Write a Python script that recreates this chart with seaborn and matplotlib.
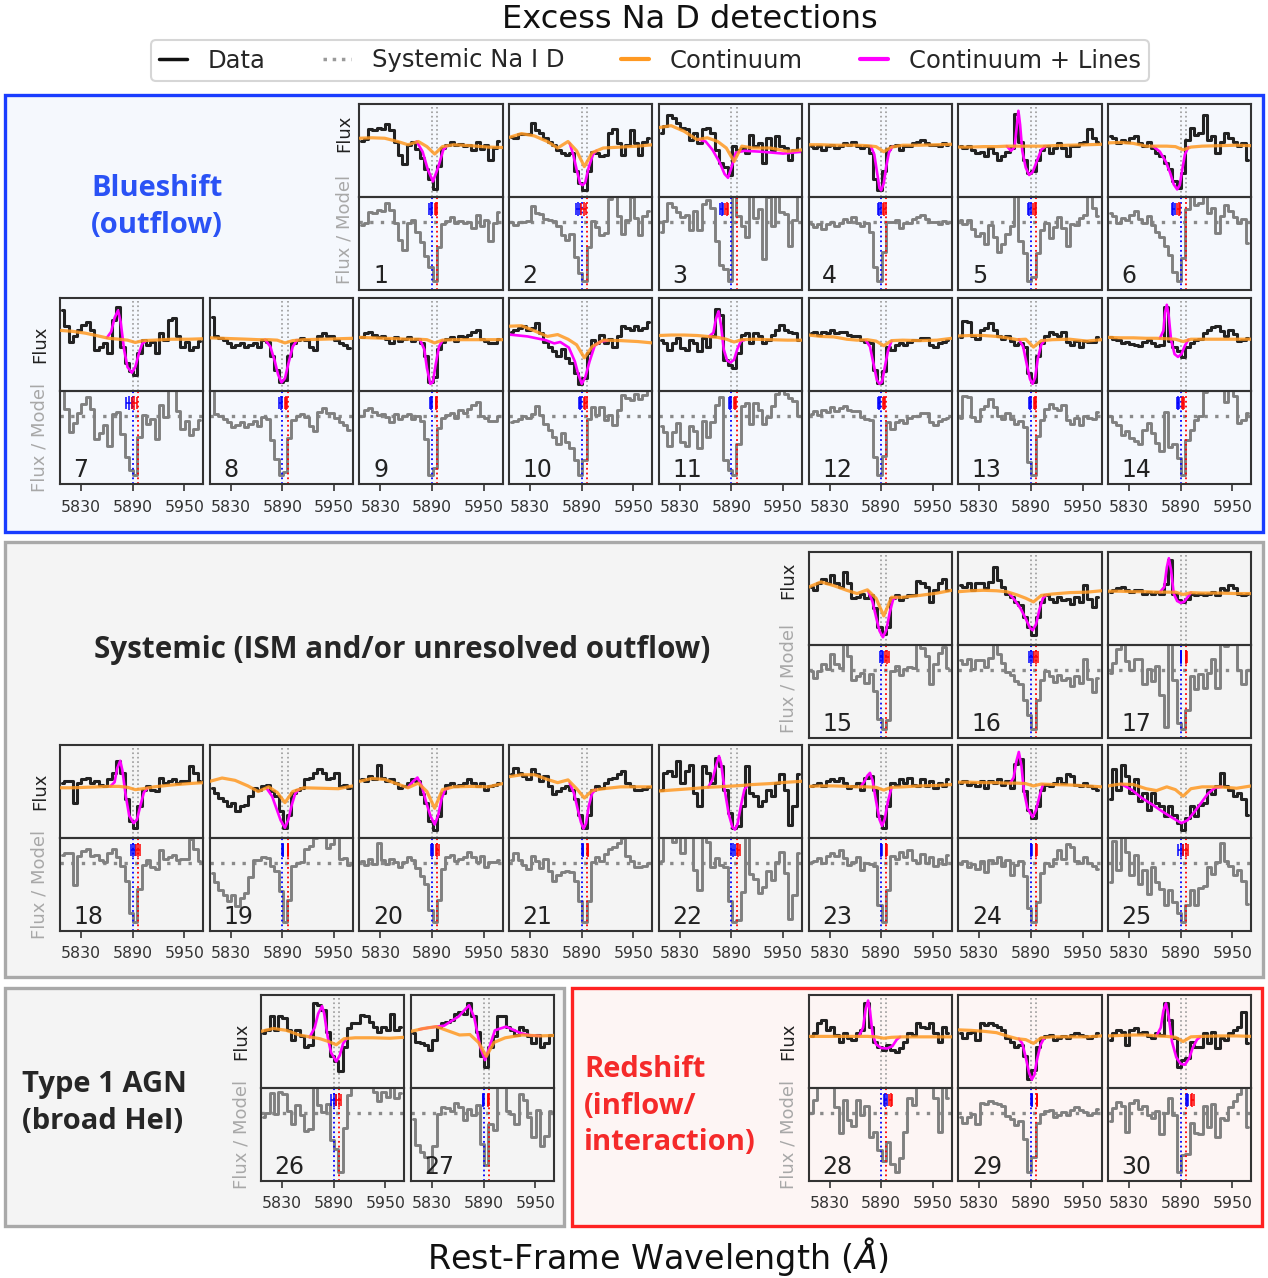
import numpy as np
import matplotlib
matplotlib.use("Agg")
import matplotlib.pyplot as plt
from matplotlib.patches import Rectangle
from matplotlib.lines import Line2D
import seaborn as sns

W, H = 1268, 1278

# wavelength grids (Angstrom)
WAVE_LIM = (5805.6, 5972.0)
FLUX_WAVE = np.arange(5808, 5969, 5)
CONT_WAVE = [5806, 5820, 5835, 5850, 5862, 5874, 5884, 5893, 5902, 5915, 5935, 5955, 5972]
NAD = [5890, 5896]
TICKS = [5830, 5890, 5950]

# ---- spectra (flux in panel units, 0 = bottom, 10 = top) ----
FLUX_01 = [6.1, 6.3, 7.3, 7.2, 7.4, 7.3, 7.9, 7.2, 6.0, 4.5, 3.6, 5.6, 6.0, 5.2, 4.2, 3.0, 2.0, 0.9, 3.4, 5.3, 5.6, 6.0, 5.6, 5.7, 5.5, 5.6, 5.1, 6.0, 5.2, 5.6, 4.0, 5.3, 6.1]
CONT_01 = [6.35, 6.4, 6.35, 6.0, 5.65, 6.0, 5.45, 4.65, 5.45, 5.65, 5.55, 5.4, 5.35]
LINE_01 = [(5872, 6.0), (5879, 4.9), (5885, 3.0), (5891, 1.7), (5897, 3.2), (5903, 5.1), (5907, 5.5)]

FLUX_02 = [6.5, 6.4, 6.8, 6.8, 6.8, 8.0, 7.25, 6.9, 6.35, 6.0, 5.65, 5.1, 4.75, 4.6, 4.75, 2.8, 1.5, 0.8, 2.8, 4.9, 4.75, 4.4, 4.6, 6.9, 7.3, 5.8, 4.6, 5.6, 7.2, 5.8, 4.6, 6.0, 6.4]
CONT_02 = [6.45, 6.85, 6.6, 6.0, 5.3, 6.0, 5.0, 3.3, 4.8, 5.3, 5.4, 5.5, 5.65]
LINE_02 = [(5876, 5.8), (5880, 4.6), (5884, 3.0), (5888, 1.5), (5891, 1.3), (5894, 1.6), (5898, 3.2), (5903, 4.6), (5907, 5.0)]

FLUX_03 = [6.9, 7.65, 8.9, 8.55, 8.0, 7.5, 7.3, 6.2, 6.9, 5.85, 7.3, 7.5, 6.9, 5.1, 3.7, 3.3, 2.4, 5.5, 5.1, 5.3, 4.75, 6.75, 5.5, 5.85, 3.7, 6.4, 5.1, 6.6, 5.5, 5.3, 4.0, 5.1, 6.4]
CONT_03 = [7.5, 7.7, 7.1, 6.2, 6.4, 6.0, 5.3, 3.85, 5.5, 5.3, 5.3, 4.95, 5.1]
LINE_03 = [(5852, 6.2), (5860, 6.0), (5868, 5.1), (5876, 3.8), (5882, 2.5), (5886, 2.1), (5890, 3.2), (5895, 4.8), (5905, 5.0), (5925, 4.9), (5950, 4.7), (5972, 4.9)]

FLUX_04 = [5.5, 5.3, 5.5, 5.1, 5.5, 5.65, 5.3, 5.5, 5.85, 5.65, 6.0, 5.5, 5.3, 5.5, 4.75, 2.0, 0.8, 2.8, 5.2, 5.5, 5.65, 5.1, 5.5, 5.5, 5.85, 6.0, 6.2, 5.85, 5.65, 5.65, 5.5, 5.8, 5.6]
CONT_04 = [5.65, 5.65, 5.6, 5.6, 5.6, 5.55, 5.45, 4.9, 5.4, 5.6, 5.6, 5.65, 5.7]
LINE_04 = [(5878, 5.5), (5882, 4.6), (5885, 2.8), (5888, 1.0), (5890, 0.75), (5893, 1.5), (5896, 3.4), (5899, 4.8), (5903, 5.45)]

FLUX_05 = [5.5, 5.3, 5.5, 5.1, 4.75, 4.9, 4.4, 5.3, 4.75, 4.0, 4.4, 4.9, 5.3, 9.0, 6.0, 4.0, 2.6, 2.8, 4.0, 5.1, 5.5, 4.75, 5.3, 5.85, 5.3, 4.4, 5.5, 5.5, 5.85, 6.0, 7.3, 6.4, 6.0]
CONT_05 = [5.4, 5.4, 5.45, 5.45, 5.5, 5.5, 5.5, 5.5, 5.5, 5.55, 5.6, 5.65, 5.7]
LINE_05 = [(5862, 5.5), (5867, 5.0), (5871, 5.4), (5873.5, 7.5), (5875.5, 9.3), (5877.5, 7.8), (5880, 5.0), (5884, 3.2), (5888, 2.4), (5892, 2.7), (5897, 3.9), (5902, 5.1), (5907, 5.5)]

FLUX_06 = [6.6, 6.4, 5.85, 6.2, 6.0, 6.4, 6.6, 5.85, 5.5, 6.0, 5.3, 4.75, 4.4, 3.7, 3.0, 1.7, 1.0, 2.6, 6.2, 7.5, 6.75, 6.9, 8.9, 6.2, 6.6, 4.75, 6.0, 6.9, 6.4, 6.0, 5.5, 5.85, 4.0]
CONT_06 = [5.85, 5.9, 5.8, 5.5, 5.5, 5.5, 5.45, 5.1, 5.4, 5.5, 5.55, 5.6, 5.55]
LINE_06 = [(5858, 5.5), (5866, 4.9), (5873, 3.8), (5878, 2.6), (5882, 1.4), (5886, 0.85), (5889, 1.3), (5892, 3.0), (5895, 4.6), (5899, 5.4)]

FLUX_07 = [8.75, 7.0, 5.35, 5.9, 6.6, 7.15, 7.5, 6.6, 4.45, 4.8, 5.2, 4.1, 7.7, 9.1, 4.8, 3.0, 2.15, 1.8, 4.1, 5.5, 5.0, 5.3, 4.1, 6.25, 5.5, 7.7, 7.85, 5.9, 4.8, 5.3, 4.45, 4.8, 5.4]
CONT_07 = [6.55, 6.45, 6.25, 5.95, 5.7, 5.6, 5.5, 5.25, 5.45, 5.5, 5.6, 5.6, 5.65]
LINE_07 = [(5860, 5.75), (5865, 6.4), (5869, 7.9), (5873, 8.7), (5876, 7.5), (5880, 4.5), (5884, 2.6), (5889, 2.0), (5893, 2.6), (5897, 4.0), (5901, 5.1), (5905, 5.4)]

FLUX_08 = [8.0, 5.9, 5.7, 5.5, 5.2, 4.8, 5.0, 5.2, 4.8, 5.0, 5.2, 4.8, 5.5, 5.35, 3.75, 2.3, 1.05, 1.25, 3.75, 5.2, 5.5, 5.7, 5.5, 4.8, 4.45, 5.9, 6.25, 5.9, 5.9, 5.5, 5.2, 5.0, 4.65]
CONT_08 = [5.75, 5.7, 5.65, 5.6, 5.55, 5.55, 5.5, 5.2, 5.45, 5.55, 5.6, 5.65, 5.7]
LINE_08 = [(5870, 5.55), (5876, 4.8), (5881, 3.3), (5885, 1.8), (5889, 0.95), (5893, 1.4), (5897, 3.0), (5902, 4.8), (5907, 5.5)]

FLUX_09 = [5.8, 6.3, 6.4, 6.1, 5.8, 5.9, 5.6, 5.2, 5.8, 5.4, 5.6, 5.8, 5.4, 5.6, 5.2, 3.8, 1.0, 1.5, 4.5, 5.35, 5.6, 5.8, 5.4, 6.0, 5.8, 6.1, 6.4, 6.6, 5.6, 5.4, 5.2, 5.2, 5.6]
CONT_09 = [5.8, 5.75, 5.7, 5.65, 5.6, 5.6, 5.55, 5.2, 5.5, 5.55, 5.55, 5.55, 5.55]
LINE_09 = [(5876, 5.55), (5881, 4.5), (5884, 2.5), (5888, 0.8), (5891, 1.0), (5894, 2.8), (5898, 4.8), (5902, 5.45)]

FLUX_10 = [6.4, 6.6, 6.8, 7.0, 6.6, 6.8, 7.3, 6.25, 5.35, 4.8, 4.3, 3.75, 4.5, 3.6, 3.0, 2.0, 0.8, 1.4, 4.1, 5.5, 5.2, 6.1, 5.2, 5.6, 4.8, 5.9, 7.0, 6.8, 6.6, 7.0, 6.6, 6.8, 7.5]
CONT_10 = [7.0, 7.05, 6.5, 5.9, 6.1, 5.6, 5.0, 3.6, 4.8, 5.5, 5.45, 5.35, 5.2]
LINE_10 = [(5806, 6.1), (5827, 5.9), (5848, 5.5), (5858, 5.15), (5865, 5.3), (5875, 4.7), (5882, 3.2), (5886, 1.8), (5890, 0.8), (5894, 1.5), (5899, 3.2), (5905, 4.9), (5912, 5.35), (5920, 5.45)]

FLUX_11 = [5.5, 5.2, 4.45, 5.2, 5.7, 4.65, 4.45, 5.5, 5.2, 4.3, 5.7, 4.8, 5.9, 8.9, 8.2, 3.4, 2.85, 2.5, 4.1, 6.05, 6.25, 5.2, 6.25, 5.9, 5.2, 5.5, 6.05, 6.6, 7.15, 6.6, 6.4, 6.25, 5.5]
CONT_11 = [6.0, 6.05, 6.05, 6.0, 5.9, 5.8, 5.6, 5.3, 5.55, 5.6, 5.55, 5.5, 5.5]
LINE_11 = [(5864, 5.9), (5869, 6.3), (5872, 7.8), (5875, 8.6), (5878, 7.0), (5881, 4.5), (5885, 3.3), (5889, 3.1), (5893, 3.4), (5897, 4.6), (5901, 5.4), (5905, 5.5)]

FLUX_12 = [6.25, 6.4, 6.05, 6.4, 6.25, 6.6, 6.25, 6.4, 6.4, 6.05, 5.9, 5.9, 5.5, 5.35, 5.2, 2.3, 0.9, 2.15, 4.8, 4.45, 5.0, 5.2, 5.0, 5.35, 5.5, 5.5, 5.7, 5.7, 5.0, 4.8, 5.2, 5.35, 5.5]
CONT_12 = [6.05, 5.9, 5.85, 5.6, 5.5, 5.55, 5.4, 4.9, 5.45, 5.5, 5.45, 5.5, 5.7]
LINE_12 = [(5872, 5.5), (5877, 4.8), (5881, 3.0), (5885, 1.2), (5888, 0.8), (5891, 1.0), (5894, 2.5), (5898, 4.4), (5902, 5.4)]

FLUX_13 = [5.8, 7.6, 7.5, 5.9, 5.6, 6.6, 6.8, 7.3, 6.6, 5.9, 5.6, 6.0, 5.4, 5.0, 5.2, 4.8, 2.0, 1.0, 3.8, 5.2, 6.0, 6.4, 6.2, 6.0, 6.4, 5.3, 5.0, 5.4, 4.8, 5.4, 5.3, 5.3, 5.8]
CONT_13 = [5.95, 6.0, 6.0, 5.9, 5.75, 5.55, 5.6, 4.75, 5.45, 5.55, 5.6, 5.4, 5.55]
LINE_13 = [(5876, 5.6), (5881, 4.8), (5885, 3.0), (5889, 1.3), (5892, 0.8), (5895, 1.5), (5898, 3.5), (5902, 5.0), (5906, 5.5)]

FLUX_14 = [5.8, 5.6, 5.5, 5.2, 5.3, 5.1, 5.0, 4.9, 5.3, 5.5, 5.2, 4.9, 5.0, 9.1, 5.4, 4.8, 4.3, 3.7, 4.8, 5.2, 5.5, 5.6, 6.3, 6.6, 6.9, 7.0, 6.5, 6.0, 6.6, 6.2, 5.4, 5.5, 5.7]
CONT_14 = [5.8, 5.75, 5.75, 5.7, 5.7, 5.65, 5.6, 5.35, 5.6, 5.6, 5.6, 5.6, 5.6]
LINE_14 = [(5866, 5.7), (5870, 6.5), (5872, 8.5), (5874, 9.3), (5876, 8.3), (5879, 5.5), (5883, 4.0), (5887, 3.7), (5891, 4.0), (5895, 4.9), (5899, 5.55)]

FLUX_15 = [6.2, 5.85, 6.6, 7.1, 6.6, 7.5, 6.6, 6.2, 7.85, 6.6, 5.0, 5.15, 5.5, 5.0, 5.3, 3.9, 1.9, 1.1, 1.9, 5.0, 5.3, 4.8, 5.15, 5.3, 5.3, 6.9, 6.6, 6.2, 4.6, 5.85, 6.6, 7.1, 5.85]
CONT_15 = [6.2, 6.75, 6.35, 5.85, 5.5, 5.9, 5.0, 3.1, 5.1, 5.1, 5.3, 5.55, 5.85]
LINE_15 = [(5875, 5.75), (5880, 4.6), (5884, 3.0), (5888, 1.5), (5892, 0.8), (5896, 1.6), (5900, 3.5), (5904, 4.9), (5908, 5.1)]

FLUX_16 = [6.4, 6.2, 6.6, 5.85, 6.6, 6.6, 6.05, 6.75, 8.4, 6.95, 6.2, 5.5, 5.15, 4.6, 4.25, 3.0, 1.9, 1.0, 3.0, 4.6, 5.3, 4.95, 4.6, 5.15, 4.8, 4.95, 4.4, 5.15, 4.6, 6.4, 4.95, 4.05, 5.15]
CONT_16 = [5.7, 5.8, 5.85, 5.8, 5.7, 5.35, 5.0, 4.6, 5.3, 5.45, 5.6, 5.65, 5.8]
LINE_16 = [(5865, 5.5), (5872, 4.7), (5878, 3.9), (5884, 2.8), (5889, 1.8), (5892, 1.55), (5896, 2.2), (5900, 3.8), (5904, 5.0), (5908, 5.35)]

FLUX_17 = [5.7, 5.85, 6.05, 6.2, 5.85, 5.7, 5.85, 5.85, 5.5, 5.7, 5.5, 5.7, 5.5, 6.5, 9.1, 5.5, 4.8, 4.6, 4.95, 5.5, 5.3, 5.5, 5.3, 5.5, 5.7, 5.3, 6.05, 5.85, 6.4, 6.05, 5.5, 5.3, 5.5]
CONT_17 = [5.75, 5.75, 5.7, 5.7, 5.65, 5.65, 5.65, 5.4, 5.6, 5.55, 5.55, 5.5, 5.5]
LINE_17 = [(5866, 5.65), (5871, 6.2), (5874, 8.3), (5876.4, 9.3), (5879, 8.0), (5882, 5.5), (5886, 4.7), (5890, 4.5), (5894, 4.6), (5898, 5.1), (5902, 5.6)]

FLUX_18 = [5.95, 6.1, 6.1, 3.8, 5.95, 6.3, 6.5, 5.95, 6.1, 5.75, 5.6, 6.3, 7.0, 8.3, 7.0, 4.15, 1.8, 1.1, 3.4, 5.2, 5.6, 5.2, 5.05, 6.5, 5.95, 6.1, 6.3, 5.95, 6.1, 6.1, 7.75, 7.0, 6.1]
CONT_18 = [5.4, 5.4, 5.45, 5.5, 5.55, 5.55, 5.45, 5.2, 5.3, 5.5, 5.7, 5.85, 5.95]
LINE_18 = [(5864, 5.55), (5869, 6.0), (5872, 7.5), (5875.5, 8.3), (5878, 7.3), (5882, 4.5), (5886, 2.4), (5891, 1.6), (5895, 2.0), (5899, 3.5), (5903, 4.9), (5907, 5.35)]

FLUX_19 = [5.4, 4.85, 4.3, 3.95, 3.4, 3.8, 2.9, 3.4, 3.6, 4.5, 5.4, 5.2, 5.6, 5.75, 5.05, 4.5, 2.9, 1.1, 2.5, 4.85, 5.2, 5.4, 6.3, 6.5, 7.0, 7.4, 7.0, 6.3, 6.5, 7.0, 5.6, 5.75, 5.4]
CONT_19 = [6.1, 6.45, 6.2, 5.6, 5.0, 5.5, 4.9, 3.8, 5.0, 5.4, 5.35, 5.3, 5.6]
LINE_19 = [(5872, 5.3), (5878, 4.5), (5883, 3.2), (5888, 1.9), (5893, 1.1), (5897, 2.0), (5901, 3.6), (5905, 4.8), (5909, 5.2)]

FLUX_20 = [6.3, 6.1, 6.65, 6.3, 7.9, 6.5, 6.1, 6.3, 5.95, 5.4, 5.6, 5.95, 6.3, 6.1, 4.7, 3.8, 1.8, 0.9, 2.35, 4.85, 5.75, 5.95, 5.6, 5.75, 5.95, 6.3, 5.95, 5.6, 5.95, 5.2, 5.6, 5.75, 5.95]
CONT_20 = [6.1, 6.4, 6.3, 5.8, 5.4, 5.9, 5.0, 3.2, 5.2, 5.5, 5.55, 5.5, 5.85]
LINE_20 = [(5862, 5.45), (5868, 6.1), (5873, 6.5), (5878, 5.6), (5883, 3.9), (5888, 2.4), (5893, 1.45), (5897, 2.4), (5901, 4.2), (5905, 5.2), (5909, 5.35)]

FLUX_21 = [6.85, 7.55, 7.0, 6.65, 6.3, 7.4, 6.85, 6.1, 6.65, 5.6, 4.7, 5.05, 5.4, 5.6, 5.2, 4.15, 2.5, 1.1, 2.5, 5.2, 5.6, 5.4, 5.95, 6.3, 6.5, 6.85, 7.2, 5.95, 5.6, 5.2, 5.2, 5.3, 5.5]
CONT_21 = [6.6, 6.8, 6.8, 6.3, 5.95, 6.25, 5.3, 4.3, 5.1, 5.3, 5.5, 5.5, 5.5]
LINE_21 = [(5876, 5.9), (5881, 4.8), (5885, 3.2), (5889, 1.7), (5892, 1.0), (5895, 1.6), (5898, 3.4), (5902, 4.8), (5906, 5.2)]

FLUX_22 = [5.2, 7.0, 7.2, 6.65, 8.3, 5.95, 7.2, 7.9, 4.85, 3.4, 7.75, 7.0, 5.95, 8.6, 7.75, 5.2, 2.7, 1.1, 1.25, 3.4, 7.75, 4.85, 4.5, 3.4, 3.95, 5.2, 4.5, 5.95, 6.85, 5.2, 1.45, 3.4, 6.85]
CONT_22 = [5.05, 5.15, 5.25, 5.35, 5.45, 5.5, 5.55, 5.6, 5.65, 5.75, 5.85, 6.0, 6.1]
LINE_22 = [(5863, 5.45), (5868, 6.3), (5872, 7.8), (5875.5, 8.8), (5878, 8.0), (5882, 5.2), (5887, 2.5), (5891, 1.2), (5894, 0.9), (5897, 1.5), (5901, 3.5), (5905, 5.2), (5909, 5.7)]

FLUX_23 = [5.6, 5.75, 5.95, 5.6, 6.1, 6.3, 6.1, 6.5, 5.95, 5.4, 5.6, 5.95, 5.2, 6.5, 6.65, 5.2, 2.35, 1.1, 3.4, 5.95, 5.75, 6.3, 5.95, 6.5, 5.75, 5.6, 6.3, 5.6, 6.1, 5.4, 5.95, 5.6, 6.3]
CONT_23 = [5.55, 5.6, 5.6, 5.55, 5.5, 5.5, 5.45, 5.15, 5.45, 5.5, 5.6, 5.65, 5.75]
LINE_23 = [(5866, 5.5), (5870, 6.0), (5874, 6.7), (5877, 7.0), (5880, 6.2), (5884, 4.0), (5888, 2.0), (5891, 1.3), (5894, 2.0), (5898, 4.0), (5902, 5.4)]

FLUX_24 = [5.95, 6.1, 5.75, 5.95, 5.6, 6.1, 5.4, 6.1, 5.95, 6.3, 5.75, 6.1, 5.4, 8.0, 8.45, 5.05, 3.05, 2.15, 3.4, 5.2, 5.75, 5.6, 5.95, 6.5, 5.95, 6.85, 6.65, 5.75, 5.6, 5.95, 5.6, 5.4, 5.2]
CONT_24 = [6.0, 6.0, 5.95, 5.95, 5.9, 5.9, 5.85, 5.6, 5.8, 5.75, 5.7, 5.6, 5.5]
LINE_24 = [(5866, 5.9), (5870, 6.5), (5873, 8.2), (5876, 9.25), (5879, 7.8), (5882, 5.0), (5886, 3.2), (5892, 2.25), (5896, 3.0), (5900, 4.5), (5904, 5.75)]

FLUX_25 = [4.15, 7.4, 5.2, 7.9, 6.65, 4.85, 6.3, 3.95, 4.85, 3.05, 4.85, 3.8, 3.4, 2.35, 3.4, 2.5, 1.6, 0.9, 2.15, 3.4, 2.35, 3.6, 3.8, 5.2, 4.7, 5.6, 7.0, 5.6, 5.2, 4.5, 4.85, 4.15, 2.5]
CONT_25 = [5.6, 5.8, 5.75, 5.3, 5.1, 5.5, 5.2, 4.5, 5.3, 5.5, 5.5, 5.35, 5.6]
LINE_25 = [(5821, 5.8), (5833, 5.2), (5845, 4.3), (5857, 3.6), (5868, 2.9), (5880, 2.2), (5891, 1.6), (5898, 1.9), (5906, 2.8), (5914, 3.8), (5922, 4.8), (5930, 5.4), (5938, 5.5)]

FLUX_26 = [5.9, 6.25, 7.7, 6.25, 7.7, 7.5, 6.25, 5.2, 6.25, 5.55, 4.45, 4.65, 9.1, 8.9, 8.4, 6.0, 3.4, 2.85, 1.8, 4.45, 6.4, 6.95, 6.95, 7.85, 7.7, 7.15, 6.6, 6.05, 6.6, 6.25, 8.0, 6.25, 6.6]
CONT_26 = [6.1, 6.4, 6.2, 5.7, 5.5, 5.3, 5.0, 4.65, 5.3, 5.4, 5.4, 5.35, 5.45]
LINE_26 = [(5862, 5.45), (5868, 6.5), (5872, 8.0), (5876.5, 8.8), (5879, 8.0), (5883, 5.5), (5887, 3.8), (5893, 2.85), (5897, 3.5), (5901, 4.8), (5905, 5.3)]

FLUX_27 = [5.9, 5.0, 4.8, 4.65, 4.1, 5.2, 6.6, 6.95, 7.15, 7.3, 8.0, 8.2, 8.0, 9.1, 7.7, 6.05, 3.4, 2.3, 4.45, 5.55, 7.7, 7.7, 6.6, 6.25, 5.7, 6.6, 6.25, 5.55, 4.8, 5.7, 4.45, 4.8, 5.7]
CONT_27 = [6.1, 6.4, 6.6, 6.1, 5.7, 5.75, 4.9, 3.4, 4.9, 5.4, 5.7, 5.6, 5.65]
LINE_27 = [(5815, 6.3), (5827, 6.5), (5844, 6.7), (5861, 7.7), (5868, 8.4), (5873, 8.9), (5879, 7.6), (5886, 4.4), (5891.5, 3.0), (5897, 4.5), (5903, 6.2), (5916, 6.6), (5933, 5.9), (5945, 5.65), (5955, 5.6)]

FLUX_28 = [5.55, 5.9, 6.95, 7.3, 6.25, 6.6, 5.7, 5.0, 5.9, 5.35, 5.2, 5.9, 6.25, 9.1, 6.6, 5.0, 4.45, 4.1, 4.65, 4.1, 3.9, 4.3, 5.0, 5.9, 5.7, 6.95, 6.6, 6.4, 6.95, 5.9, 5.0, 6.6, 5.9]
CONT_28 = [5.55, 5.55, 5.55, 5.55, 5.55, 5.55, 5.5, 5.35, 5.45, 5.5, 5.5, 5.5, 5.5]
LINE_28 = [(5864, 5.55), (5869, 6.5), (5872, 8.5), (5874.8, 9.4), (5877, 8.3), (5880, 5.8), (5884, 4.7), (5890, 4.3), (5897, 4.25), (5903, 4.5), (5908, 5.2), (5912, 5.5)]

FLUX_29 = [5.9, 5.35, 5.9, 6.05, 5.2, 6.95, 6.8, 6.95, 6.8, 6.6, 6.25, 5.35, 5.0, 4.45, 4.65, 3.4, 1.0, 1.95, 4.45, 5.35, 5.55, 5.7, 5.2, 5.35, 5.55, 5.35, 5.7, 5.9, 5.7, 5.55, 5.35, 5.55, 5.9]
CONT_29 = [6.25, 6.2, 6.1, 5.95, 5.6, 5.3, 5.2, 4.8, 5.4, 5.5, 5.5, 5.5, 5.6]
LINE_29 = [(5876, 5.3), (5880, 4.8), (5884, 3.3), (5888, 1.6), (5891, 0.9), (5894, 1.4), (5897, 3.0), (5901, 4.6), (5905, 5.3)]

FLUX_30 = [5.2, 5.9, 6.25, 6.05, 4.65, 6.25, 6.4, 5.9, 6.05, 5.55, 5.35, 5.9, 5.7, 9.1, 7.3, 5.35, 2.3, 3.0, 3.2, 5.0, 4.45, 4.45, 5.9, 4.8, 6.05, 4.3, 5.35, 5.2, 5.9, 6.25, 6.6, 8.2, 4.8]
CONT_30 = [5.6, 5.65, 5.7, 5.7, 5.6, 5.55, 5.45, 5.0, 5.5, 5.55, 5.6, 5.6, 5.55]
LINE_30 = [(5862, 5.6), (5867, 6.5), (5870, 8.3), (5873, 9.1), (5876, 7.8), (5880, 5.0), (5885, 3.3), (5890, 2.6), (5895, 2.5), (5900, 3.2), (5904, 4.3), (5909, 5.2), (5913, 5.5)]

# fitted Na D shift of the blue component (Angstrom) and its error
SHIFT = [-1.5, -4.0, -11.5, -2.2, -1.7, -8.3, -4.3, -2.0, -1.0, -2.0, -1.8, -2.7, -1.0, -3.0,
         0.5, 0.0, 0.5, 0.0, 0.5, 0.0, 1.0, 2.0, 0.0, 0.5, 0.0, 0.0, -0.5, 5.0, 1.0, 7.5]
XERR = [1.5, 2.5, 2.0, 1.5, 1.5, 2.0, 3.0, 1.5, 1.0, 1.5, 1.5, 1.5, 1.0, 1.5,
        2.0, 2.5, 0.5, 2.5, 0.4, 1.5, 0.4, 2.0, 0.4, 0.4, 3.0, 3.0, 0.4, 2.0, 0.4, 1.5]

FLUXES = [FLUX_01, FLUX_02, FLUX_03, FLUX_04, FLUX_05, FLUX_06, FLUX_07, FLUX_08, FLUX_09, FLUX_10,
          FLUX_11, FLUX_12, FLUX_13, FLUX_14, FLUX_15, FLUX_16, FLUX_17, FLUX_18, FLUX_19, FLUX_20,
          FLUX_21, FLUX_22, FLUX_23, FLUX_24, FLUX_25, FLUX_26, FLUX_27, FLUX_28, FLUX_29, FLUX_30]
CONTS = [CONT_01, CONT_02, CONT_03, CONT_04, CONT_05, CONT_06, CONT_07, CONT_08, CONT_09, CONT_10,
         CONT_11, CONT_12, CONT_13, CONT_14, CONT_15, CONT_16, CONT_17, CONT_18, CONT_19, CONT_20,
         CONT_21, CONT_22, CONT_23, CONT_24, CONT_25, CONT_26, CONT_27, CONT_28, CONT_29, CONT_30]
LINES = [LINE_01, LINE_02, LINE_03, LINE_04, LINE_05, LINE_06, LINE_07, LINE_08, LINE_09, LINE_10,
         LINE_11, LINE_12, LINE_13, LINE_14, LINE_15, LINE_16, LINE_17, LINE_18, LINE_19, LINE_20,
         LINE_21, LINE_22, LINE_23, LINE_24, LINE_25, LINE_26, LINE_27, LINE_28, LINE_29, LINE_30]

# ---- layout in pixels ----
PW, PH = 143.3, 93.0
COLS = [60.0, 209.7, 359.4, 509.1, 658.8, 808.5, 958.2, 1107.9]
ROW_TOP = {1: 104.3, 2: 298.3, 3: 551.7, 4: 745.0, 5: 995.0}
PANEL_ROW = [1] * 6 + [2] * 8 + [3] * 3 + [4] * 8 + [5] * 5
PANEL_X = COLS[2:8] + COLS + COLS[5:8] + COLS + [261.0, 411.0] + COLS[5:8]
TICK_ROWS = {2, 4, 5}
FIRST = {1, 7, 15, 18, 26, 28}
# (x offset of labels, dy of Flux label, dy of Flux/Model label)
LABEL_OFF = {1: (-15, -17, -14), 2: (-20, 0, 0), 3: (-20, -18, -13), 4: (-20, 0, 0), 5: (-20, 0, 0)}

C_DATA = "#222222"
C_RES = "#808080"
C_CONT = "#ff9922"
C_LINE = "#ff00ff"
C_SPINE = "#333333"

sns.set_style("white")
plt.rcParams["font.family"] = ["DejaVu Sans"]
plt.rcParams["mathtext.fontset"] = "dejavusans"

fig = plt.figure(figsize=(W / 100, H / 100), dpi=100)


def px_axes(x, y, w, h):
    return fig.add_axes([x / W, 1 - (y + h) / H, w / W, h / H])


def px_box(x0, y0, x1, y1, edge, face):
    fig.add_artist(Rectangle((x0 / W, 1 - y1 / H), (x1 - x0) / W, (y1 - y0) / H,
                             transform=fig.transFigure, facecolor=face, edgecolor=edge,
                             lw=2.4, zorder=-1))


def px_text(x, y, s, **kw):
    fig.text(x / W, 1 - y / H, s, **kw)


# group boxes
px_box(5, 95, 1263, 532, "#1a3dff", "#f5f8fd")
px_box(5, 542, 1263, 977, "#a9a9a9", "#f4f4f4")
px_box(5, 988, 564, 1226, "#a9a9a9", "#f4f4f4")
px_box(572, 988, 1262, 1226, "#ff2222", "#fdf5f4")


def style_axes(ax):
    ax.patch.set_alpha(0)
    for sp in ax.spines.values():
        sp.set_color(C_SPINE)
        sp.set_linewidth(1.5)
    ax.set_xlim(*WAVE_LIM)
    ax.set_yticks([])
    ax.set_xlabel("")
    ax.set_ylabel("")


for i in range(30):
    num = i + 1
    row = PANEL_ROW[i]
    x0 = PANEL_X[i]
    top = ROW_TOP[row]
    flux = np.array(FLUXES[i], dtype=float)
    cont = np.array(CONTS[i], dtype=float)
    lw_, lv_ = [np.array(v) for v in zip(*LINES[i])]

    # model on the data grid: continuum (+ emission) used to normalise
    cont_g = np.interp(FLUX_WAVE, CONT_WAVE, cont)
    inside = (FLUX_WAVE >= lw_[0]) & (FLUX_WAVE <= lw_[-1])
    model_g = np.where(inside, np.interp(FLUX_WAVE, lw_, lv_), cont_g)
    resid = flux / np.maximum(model_g, cont_g)

    ax_f = px_axes(x0, top, PW, PH)
    ax_r = px_axes(x0, top + PH, PW, PH)

    # top: flux
    for w in NAD:
        ax_f.axvline(w, color="#9a9a9a", ls=":", lw=1.2, zorder=0.5)
    sns.lineplot(x=FLUX_WAVE, y=flux, ax=ax_f, color=C_DATA, lw=2.2,
                 drawstyle="steps-mid", zorder=1)
    sns.lineplot(x=lw_, y=lv_, ax=ax_f, color=C_LINE, lw=1.9, sort=False, zorder=2)
    sns.lineplot(x=CONT_WAVE, y=cont, ax=ax_f, color=C_CONT, lw=2.3, alpha=0.85, zorder=3)
    ax_f.set_ylim(0, 10)
    style_axes(ax_f)
    ax_f.set_xticks([])

    # bottom: flux / model
    sns.lineplot(x=FLUX_WAVE, y=resid, ax=ax_r, color=C_RES, lw=2.1,
                 drawstyle="steps-mid", zorder=1)
    ax_r.axhline(1.0, color="#8a8a8a", lw=2.4, ls=(0, (1, 2.2)), zorder=0.6)
    ax_r.axvline(NAD[0], color="blue", ls=":", lw=1.3, zorder=2)
    ax_r.axvline(NAD[1], color="red", ls=":", lw=1.3, zorder=2)
    lo = resid.min()
    d = 1.0 - lo
    y0, y1 = lo - 0.15 * d, 1.0 + 0.42 * d
    ax_r.set_ylim(y0, y1)
    ym = y0 + 0.87 * (y1 - y0)
    for w, c in zip(NAD, ["blue", "red"]):
        ax_r.errorbar([w + SHIFT[i]], [ym], xerr=[XERR[i]], fmt="|", color=c, ms=10,
                      mew=1.1, capsize=4, capthick=1.1, elinewidth=1.1, zorder=4)
    style_axes(ax_r)
    ax_r.text(0.095, 0.075, str(num), transform=ax_r.transAxes, fontsize=17,
              color="#222222", ha="left", va="baseline")

    if row in TICK_ROWS:
        ax_r.set_xticks(TICKS)
        ax_r.set_xticklabels([str(t) for t in TICKS])
        ax_r.tick_params(axis="x", bottom=True, direction="out", length=5, width=1.2,
                         colors="#333333", labelsize=11.3, pad=6)
    else:
        ax_r.set_xticks([])

    if num in FIRST:
        dx, dyf, dyr = LABEL_OFF[row]
        px_text(x0 + dx, top + PH / 2 + dyf, "Flux", rotation=90, ha="center",
                va="center", fontsize=13, color="#222222")
        px_text(x0 + dx, top + 1.5 * PH + dyr, "Flux / Model", rotation=90,
                ha="center", va="center", fontsize=13, color="#a8a8a8")

# group labels
px_text(157, 207, "Blueshift\n(outflow)", ha="center", va="center", fontsize=21,
        fontweight="bold", family="Open Sans", color="#2a52f5", linespacing=1.33)
px_text(402, 650, "Systemic (ISM and/or unresolved outflow)", ha="center", va="center",
        fontsize=21.3, fontweight="bold", family="Open Sans", color="#262626")
px_text(22, 1103, "Type 1 AGN\n(broad HeI)", ha="left", va="center", fontsize=21,
        fontweight="bold", family="Open Sans", color="#262626", linespacing=1.33)
px_text(584, 1106, "Redshift\n(inflow/\ninteraction)", ha="left", va="center", fontsize=21,
        fontweight="bold", family="Open Sans", color="#f52a2a", linespacing=1.33)

# title, legend and axis label
px_text(690, 19, "Excess Na D detections", ha="center", va="center", fontsize=23,
        color="#111111")
px_text(658, 1257, r"Rest-Frame Wavelength ($\AA$)", ha="center", va="center",
        fontsize=24, color="#111111")

handles = [
    Line2D([], [], color="#111111", lw=2.5, label="Data"),
    Line2D([], [], color="#9a9a9a", lw=2.5, ls=":", label="Systemic Na I D"),
    Line2D([], [], color=C_CONT, lw=3, label="Continuum"),
    Line2D([], [], color=C_LINE, lw=3, label="Continuum + Lines"),
]
leg = fig.legend(handles=handles, ncol=4, loc="center", bbox_to_anchor=(650 / W, 1 - 60.5 / H),
                 fontsize=17.5, frameon=True, fancybox=True, edgecolor="#cccccc",
                 handlelength=1.15, handletextpad=0.85, columnspacing=2.35, borderpad=0.35)
leg.get_frame().set_linewidth(1.5)

fig.savefig("out.png", dpi=100)
